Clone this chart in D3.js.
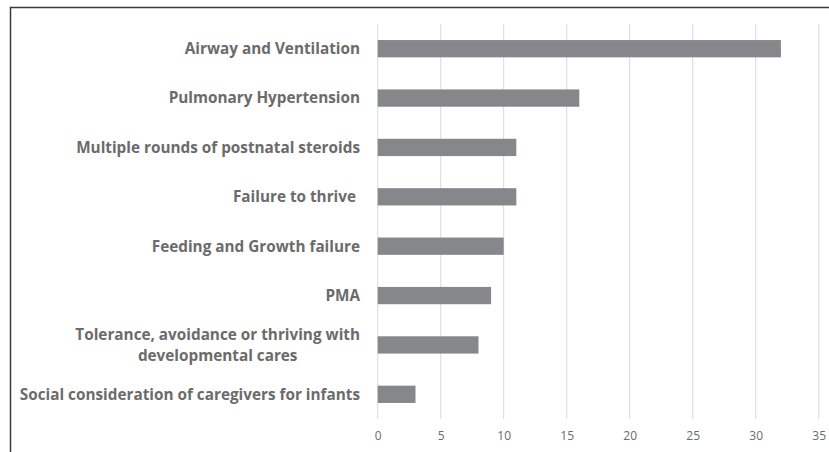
<!DOCTYPE html>
<html>
<head>
    <style>
        body { margin: 0; background: #fff; }
        .cat { font-family: "Open Sans", sans-serif; font-weight: bold; font-size: 15.3px; fill: #6b6b6b; white-space: pre; }
        .tick text { font-family: "Open Sans", sans-serif; font-size: 12px; fill: #6b6b6b; }
    </style>
    <script src="https://d3js.org/d3.v7.min.js"></script>
</head>
<body>
    <div id="chart"></div>

    <script>
        var categories = [
            ["Airway and Ventilation"],
            ["Pulmonary Hypertension"],
            ["Multiple rounds of postnatal steroids"],
            ["Failure to thrive "],
            ["Feeding and Growth failure"],
            ["PMA"],
            ["Tolerance, avoidance or thriving with", "developmental cares"],
            ["Social consideration of caregivers for infants"]
        ];
        var counts = [32, 16, 11, 11, 10, 9, 8, 3];
        var tickValues = [0, 5, 10, 15, 20, 25, 30, 35];

        var width = 829, height = 452;
        var plotLeft = 377.7, plotRight = 818.7, plotTop = 24, plotBottom = 419;

        var svg = d3.select("#chart")
                    .append("svg")
                    .attr("width", width)
                    .attr("height", height);

        // frame lines (top and left only are visible)
        svg.append("path")
            .attr("d", "M10.5," + height + "V7.5H" + width)
            .attr("fill", "none")
            .attr("stroke", "#3a3a3a")
            .attr("stroke-width", 1.5);

        var x = d3.scaleLinear().domain([0, 35]).range([plotLeft, plotRight]);
        var y = d3.scaleBand()
            .domain(d3.range(categories.length))
            .range([plotTop, plotBottom])
            .paddingInner(0.65)
            .paddingOuter(0.325);

        // gridlines
        svg.selectAll(".grid")
            .data(tickValues)
            .enter()
            .append("line")
            .attr("x1", function(d) { return x(d); })
            .attr("x2", function(d) { return x(d); })
            .attr("y1", plotTop)
            .attr("y2", plotBottom)
            .attr("stroke", "#d9d9d9")
            .attr("stroke-width", 1);

        svg.selectAll(".bar")
            .data(counts)
            .enter()
            .append("rect")
            .attr("x", x(0))
            .attr("y", function(d, i) { return y(i); })
            .attr("width", function(d) { return x(d) - x(0); })
            .attr("height", y.bandwidth())
            .attr("fill", "#86878b");

        var axis = svg.append("g")
            .attr("transform", "translate(0," + plotBottom + ")")
            .call(d3.axisBottom(x).tickValues(tickValues).tickSize(0).tickPadding(12));
        axis.select(".domain").remove();

        // category labels, right aligned, multi-line block centred
        var labelRight = 360;
        categories.forEach(function(lines, i) {
            var cy = y(i) + y.bandwidth() / 2;
            var lh = 21;
            var g = svg.append("text").attr("class", "cat");
            if (lines.length === 1) {
                g.attr("x", labelRight).attr("y", cy).attr("dy", "0.35em")
                    .attr("text-anchor", "end").text(lines[0]);
            } else {
                var t = g.append("tspan").text(lines[0]);
                var w = t.node().getComputedTextLength();
                var cx = labelRight - w / 2;
                g.attr("text-anchor", "middle");
                lines.forEach(function(l, j) {
                    var ts = j === 0 ? t : g.append("tspan");
                    ts.attr("x", cx)
                      .attr("y", cy + (j - (lines.length - 1) / 2) * lh)
                      .attr("dy", "0.35em")
                      .text(l);
                });
            }
        });
    </script>
</body>
</html>
